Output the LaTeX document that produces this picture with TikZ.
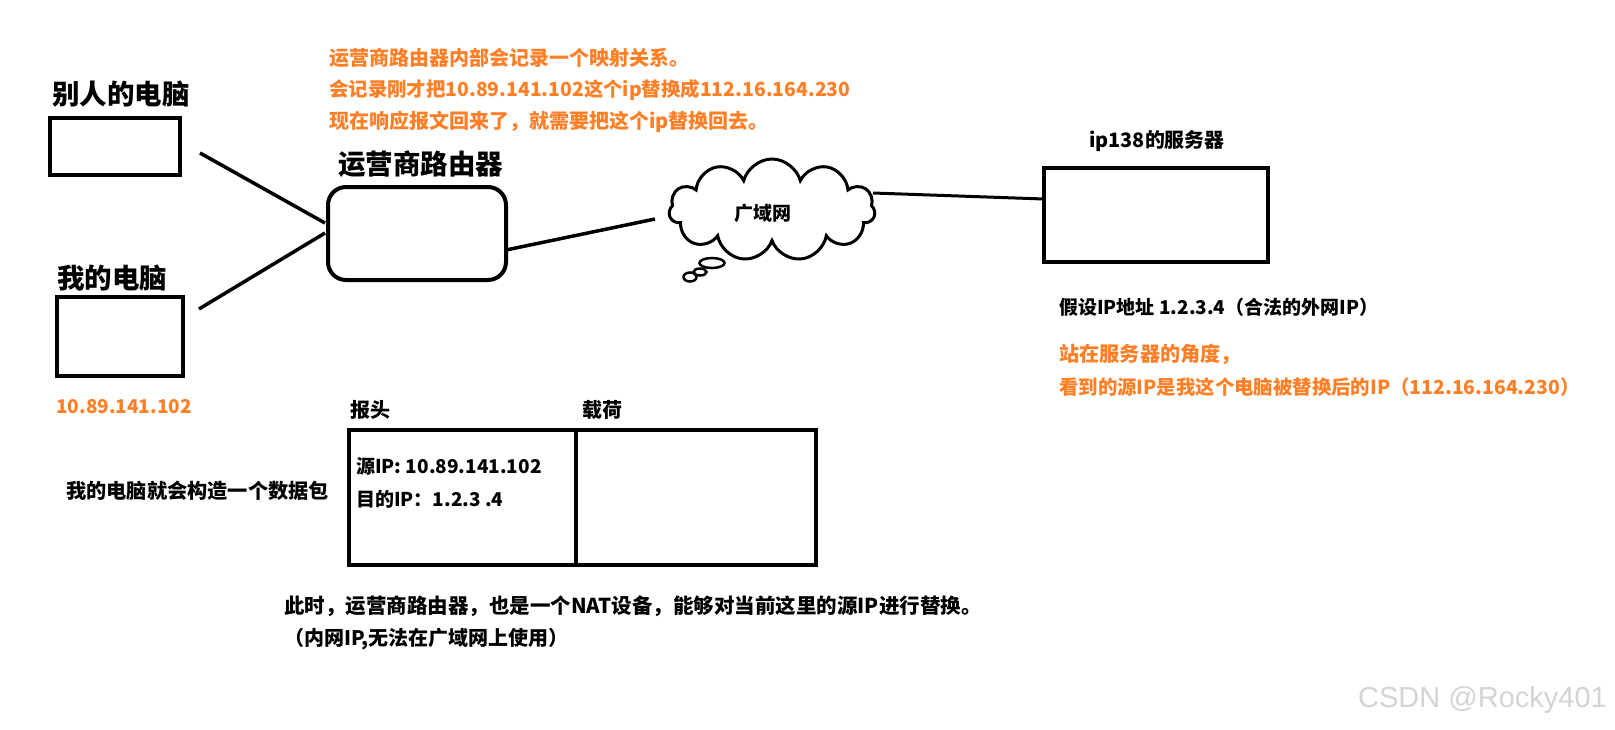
\documentclass[tikz,border=0pt]{standalone}
\usepackage{fontspec}
\setmainfont{Noto Sans CJK SC}
\newfontfamily\wmfont{Liberation Sans}
\usetikzlibrary{shapes.symbols,shapes.geometric}
\definecolor{orng}{RGB}{255,127,39}
\definecolor{wm}{RGB}{212,212,212}
\tikzset{
  lbl/.style={anchor=west, inner sep=0pt, font=\bfseries\fontsize{#1}{#1}\selectfont},
  box/.style={draw, rectangle, line width=4pt, inner sep=0pt},
  conn/.style={line width=3.5pt},
  bubble/.style={draw, ellipse, line width=2.5pt, inner sep=0pt}
}
\begin{document}
\begin{tikzpicture}[x=1pt,y=-1pt]
\useasboundingbox (0,0) rectangle (1615,729);
\fill[white] (0,0) rectangle (1615,729);

% computers
\node[lbl=27.5] (tother) at (52,94) {别人的电脑};
\node[box, minimum width=130, minimum height=57] (other) at (115,146.5) {};
\node[lbl=27.5] (tmine) at (57,278) {我的电脑};
\node[box, minimum width=126, minimum height=79] (mine) at (120,336.5) {};
\node[lbl=19, text=orng] (myip) at (56,407) {10.89.141.102};

% router
\node[lbl=27.5] (trouter) at (338,164) {运营商路由器};
\node[box, rounded corners=18pt, minimum width=178, minimum height=93] (router) at (417,233.5) {};

% orange notes top
\node[lbl=20, text=orng] (n1) at (329,58) {运营商路由器内部会记录一个映射关系。};
\node[lbl=19.4, text=orng] (n2) at (329,90) {会记录刚才把10.89.141.102这个ip替换成112.16.164.230};
\node[lbl=20, text=orng] (n3) at (329,122) {现在响应报文回来了，就需要把这个ip替换回去。};

% cloud
\node[cloud, draw, line width=3pt, cloud puffs=11, aspect=2, minimum width=206, minimum height=102] (wan) at (772,210) {};
\node[font=\bfseries\fontsize{19}{19}\selectfont, inner sep=0pt] (twan) at (763,213) {广域网};
\node[bubble, minimum width=25, minimum height=10] (b1) at (712,263) {};
\node[bubble, minimum width=13, minimum height=7] (b2) at (700,272) {};
\node[bubble, minimum width=13, minimum height=9] (b3) at (690,277) {};

% server
\node[lbl=19.9] (tserver) at (1089,141) {ip138的服务器};
\node[box, minimum width=224, minimum height=94] (server) at (1156,215) {};
\node[lbl=19] (sip) at (1059,307) {假设IP地址 1.2.3.4（合法的外网IP）};
\node[lbl=20.2, text=orng] (s1) at (1059,354) {站在服务器的角度，};
\node[lbl=19.4, text=orng] (s2) at (1059,387) {看到的源IP是我这个电脑被替换后的IP（112.16.164.230）};

% connectors
\coordinate (c1) at (200,153);
\coordinate (c2) at (325,223);
\coordinate (c3) at (199,309);
\coordinate (c4) at (325,233);
\coordinate (c5) at (506,250);
\coordinate (c6) at (655,219);
\coordinate (c7) at (873,193);
\coordinate (c8) at (1044,199);
\draw[conn] (c1) -- (c2);
\draw[conn] (c3) -- (c4);
\draw[conn] (c5) -- (c6);
\draw[line width=3pt] (c7) -- (c8);

% packet
\node[lbl=20] (thdr) at (350,410) {报头};
\node[lbl=20] (tload) at (582,410) {载荷};
\node[box, line width=3.5pt, minimum width=227, minimum height=135] (hdr) at (462.5,497.5) {};
\node[box, line width=3.5pt, minimum width=240, minimum height=135] (load) at (696,497.5) {};
\node[lbl=19] (src) at (356,466) {源IP: 10.89.141.102};
\node[lbl=19] (dst) at (356,499) {目的IP：1.2.3 .4};
\node[lbl=20.2] (build) at (66,491) {我的电脑就会构造一个数据包};

% bottom notes
\node[lbl=20.5] (nat) at (284,606) {此时，运营商路由器，也是一个NAT设备，能够对当前这里的源IP进行替换。};
\node[lbl=20] (inner) at (284,639) {（内网IP,无法在广域网上使用）};

% watermark
\node[anchor=west, inner sep=0pt, text=wm, font=\wmfont\fontsize{29}{29}\selectfont] (wmk) at (1358,700) {CSDN @Rocky401};
\end{tikzpicture}
\end{document}
